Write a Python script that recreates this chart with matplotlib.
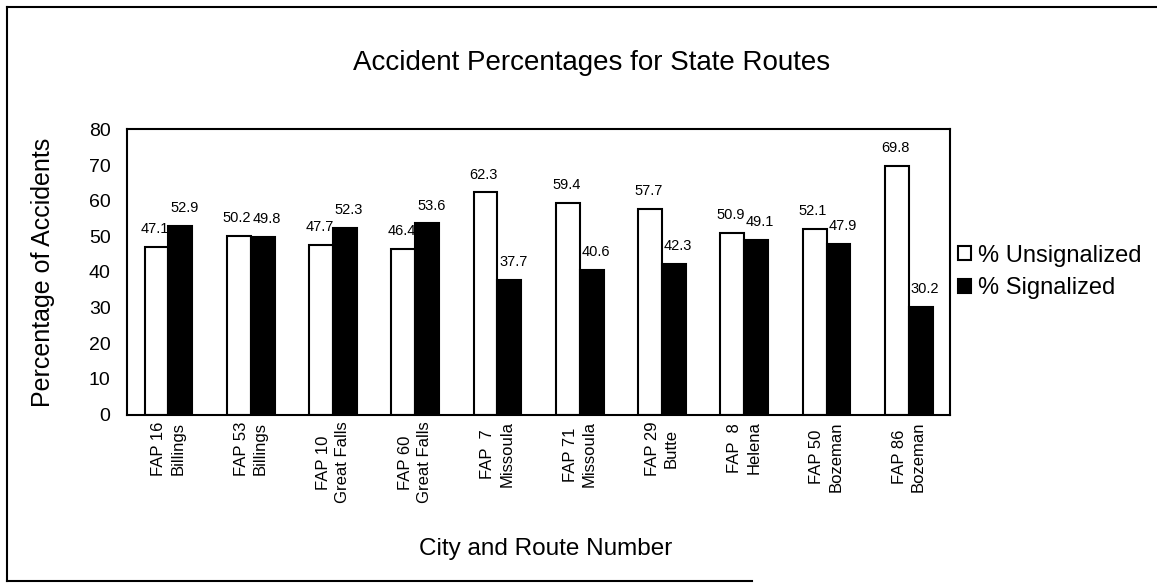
import numpy as np
import matplotlib
matplotlib.use('Agg')
from matplotlib import pyplot as plt
from matplotlib.lines import Line2D

plt.rcParams['font.family'] = ['Liberation Sans', 'DejaVu Sans']

routes = ['FAP 16\nBillings', 'FAP 53\nBillings', 'FAP 10\nGreat Falls', 'FAP 60\nGreat Falls',
          'FAP  7\nMissoula', 'FAP 71\nMissoula', 'FAP 29\nButte', 'FAP  8\nHelena',
          'FAP 50\nBozeman', 'FAP 86\nBozeman']
unsignalized = [47.1, 50.2, 47.7, 46.4, 62.3, 59.4, 57.7, 50.9, 52.1, 69.8]
signalized = [52.9, 49.8, 52.3, 53.6, 37.7, 40.6, 42.3, 49.1, 47.9, 30.2]

fig = plt.figure(figsize=(11.57, 5.88), dpi=100)
ax = fig.add_axes([0.110, 0.295, 0.711, 0.485])

x = np.arange(len(routes))
w = 0.29
ax.bar(x - w / 2, unsignalized, w, color='white', edgecolor='black', linewidth=1.5,
       label='% Unsignalized')
ax.bar(x + w / 2, signalized, w, color='black', edgecolor='black', linewidth=1.5,
       label='% Signalized')
for xi, v in zip(x, unsignalized):
    ax.text(xi - w / 2 - 0.02, v + 3, f'{v:.1f}', ha='center', va='bottom', fontsize=10.5)
for xi, v in zip(x, signalized):
    ax.text(xi + w / 2 + 0.05, v + 3, f'{v:.1f}', ha='center', va='bottom', fontsize=10.5)

ax.set_xlim(-0.5, len(routes) - 0.5)
ax.set_ylim(0, 80)
ax.set_yticks(range(0, 81, 10))
ax.tick_params(axis='y', length=0, pad=12, labelsize=14)
ax.tick_params(axis='x', length=0, pad=5)
ax.set_xticks(x)
ax.set_xticklabels(routes, rotation=90, fontsize=12, multialignment='center', linespacing=1.35)
for s in ax.spines.values():
    s.set_linewidth(1.5)

ax.set_ylabel('Percentage of Accidents', fontsize=18, labelpad=24)
fig.text(0.472, 0.066, 'City and Route Number', ha='center', va='center', fontsize=17.5)
fig.text(0.511, 0.893, 'Accident Percentages for State Routes', ha='center', va='center',
         fontsize=20)

ax.legend(loc='center left', bbox_to_anchor=(0.998, 0.5), borderaxespad=0, frameon=False,
          fontsize=17, handlelength=0.55, handleheight=0.55, handletextpad=0.3,
          labelspacing=0.45)

# outer frame from the scanned page
fig.add_artist(Line2D([0.006, 0.006], [0.012, 0.988], color='black', lw=1.5))
fig.add_artist(Line2D([0.006, 1.0], [0.988, 0.988], color='black', lw=1.5))
fig.add_artist(Line2D([0.006, 0.65], [0.012, 0.012], color='black', lw=1.5))

fig.savefig('out.png', dpi=100)
